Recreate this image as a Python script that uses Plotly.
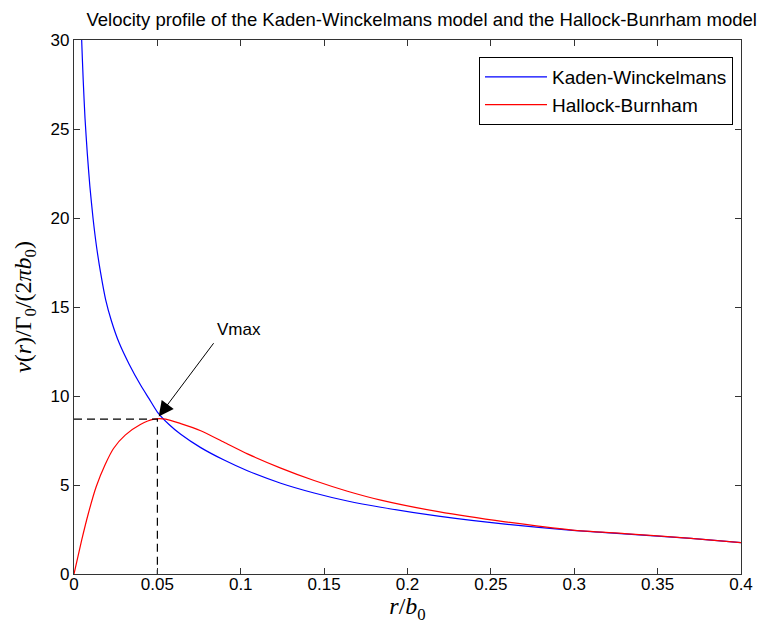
import plotly.graph_objects as go

# r/b0 and normalised velocity
kw_r = [0.0042, 0.0046, 0.0055, 0.0066, 0.008, 0.0095, 0.0114, 0.0135, 0.016, 0.019,
        0.0225, 0.027, 0.033, 0.04, 0.045, 0.05, 0.057, 0.064, 0.076, 0.09,
        0.104, 0.124, 0.144, 0.164, 0.184, 0.2185, 0.2586, 0.299, 0.33, 0.37, 0.4]
kw_v = [31.5, 30.0, 27.8, 25.6, 23.6, 21.8, 20.0, 18.4, 16.9, 15.4,
        14.2, 13.0, 11.8, 10.6, 9.85, 9.1, 8.4, 7.85, 7.1, 6.4,
        5.8, 5.1, 4.55, 4.1, 3.75, 3.25, 2.8, 2.45, 2.25, 2.0, 1.76]

hb_r = [0, 0.0046, 0.0086, 0.0133, 0.0187, 0.0237, 0.0307, 0.0398, 0.048, 0.055,
        0.064, 0.076, 0.09, 0.104, 0.124, 0.144, 0.164, 0.184, 0.2185, 0.2586,
        0.299, 0.33, 0.37, 0.4]
hb_v = [0, 1.9, 3.4, 4.9, 6.15, 7.05, 7.8, 8.4, 8.7, 8.7,
        8.45, 8.05, 7.4, 6.75, 5.95, 5.25, 4.65, 4.15, 3.5, 2.93,
        2.47, 2.27, 2.0, 1.76]

vmax_r = 0.05
vmax_v = 8.7

x_ticks = [0, 0.05, 0.1, 0.15, 0.2, 0.25, 0.3, 0.35, 0.4]
x_labels = ["0", "0.05", "0.1", "0.15", "0.2", "0.25", "0.3", "0.35", "0.4"]
y_ticks = [0, 5, 10, 15, 20, 25, 30]

font = "Liberation Sans, Arial, sans-serif"
serif = "Liberation Serif, DejaVu Serif, serif"

fig = go.Figure()
fig.add_trace(go.Scatter(x=kw_r, y=kw_v, mode="lines", name="Kaden-Winckelmans",
                         legendgroup="kw", line=dict(color="#0000ff", width=1.2,
                                                     shape="spline", smoothing=0.6)))
fig.add_trace(go.Scatter(x=hb_r, y=hb_v, mode="lines", name="Hallock-Burnham",
                         legendgroup="hb", line=dict(color="#ff0000", width=1.2,
                                                     shape="spline", smoothing=0.6)))

# dashed guides to the maximum
fig.add_trace(go.Scatter(x=[0, vmax_r, vmax_r], y=[vmax_v, vmax_v, 0], mode="lines",
                         showlegend=False, line=dict(color="black", width=1.2, dash="8px,5px")))

# arrow + label
fig.add_annotation(x=0.0508, y=8.85, ax=0.0844, ay=13.05, xref="x", yref="y",
                   axref="x", ayref="y", text="", showarrow=True,
                   arrowhead=2, arrowsize=3, arrowwidth=1, arrowcolor="black")
fig.add_annotation(x=0.0848, y=13.1, xref="x", yref="y", text="Vmax", showarrow=False,
                   xanchor="left", yanchor="bottom", font=dict(family=font, size=17, color="black"))

# the page body puts the figure 8px in, so it is sized to fit the window
fig.update_layout(
    width=769, height=631,
    margin=dict(l=66, r=36, t=32, b=65),
    paper_bgcolor="white", plot_bgcolor="white",
    font=dict(family=font, size=16, color="black"),
    title=dict(text="Velocity profile of the Kaden-Winckelmans model and the Hallock-Bunrham model",
               xref="container", x=0.538, xanchor="center", yref="container", y=0.982,
               yanchor="middle", font=dict(family=font, size=18.5, color="black")),
    legend=dict(x=0.988, y=0.968, xanchor="right", yanchor="top",
                bordercolor="black", borderwidth=1, bgcolor="white",
                itemwidth=62, tracegroupgap=0,
                font=dict(family=font, size=19, color="black")),
)
fig.update_xaxes(range=[0, 0.4], tickvals=x_ticks, ticktext=x_labels, automargin=False,
                 showgrid=False, zeroline=False, showline=True, linecolor="#333",
                 linewidth=1.2, mirror="ticks", ticks="inside", ticklen=6, tickcolor="#333",
                 ticklabelstandoff=-6, tickfont=dict(size=17),
                 title=dict(text="<i>r</i>/<i>b</i><sub>0</sub>", standoff=0,
                            font=dict(family=serif, size=24)))
fig.update_yaxes(range=[0, 30], tickvals=y_ticks, automargin=False,
                 showgrid=False, zeroline=False, showline=True, linecolor="#333",
                 linewidth=1.2, mirror="ticks", ticks="inside", ticklen=6, tickcolor="#333",
                 tickfont=dict(size=17),
                 title=dict(text="<i>v</i>(<i>r</i>)/Γ<sub>0</sub>/(2<i>πb</i><sub>0</sub>)",
                            standoff=12, font=dict(family=serif, size=24)))

fig.write_html("out.html")
